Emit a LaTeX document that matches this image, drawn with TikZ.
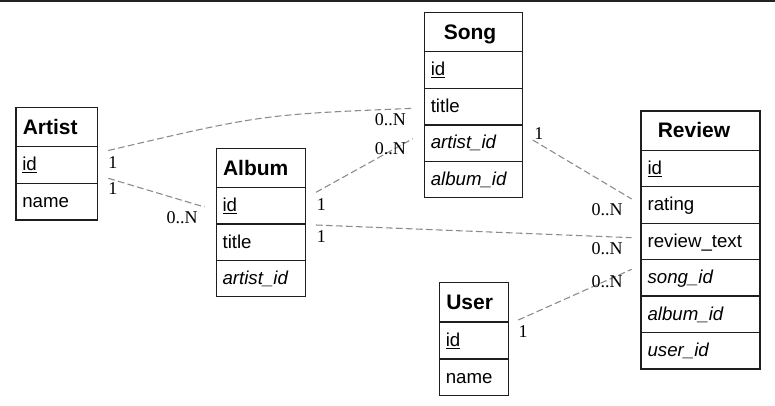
\documentclass[tikz,border=0pt]{standalone}
\usepackage{fontspec}
\setmainfont{Liberation Serif}
\newfontfamily\arialf{Liberation Sans}
\definecolor{relgray}{HTML}{8A8A8A}
\definecolor{barcol}{HTML}{222222}
\definecolor{tblcol}{HTML}{1E1E1E}
\begin{document}
\begin{tikzpicture}[x=0.75pt,y=-0.75pt,
  hdr/.style={anchor=base west, inner sep=0pt, font=\arialf\bfseries\fontsize{15.75}{18}\selectfont},
  fld/.style={anchor=base west, inner sep=0pt, font=\arialf\fontsize{14}{16}\selectfont},
  ifld/.style={fld, font=\arialf\itshape\fontsize{14}{16}\selectfont},
  card/.style={anchor=base west, inner sep=0pt, font=\fontsize{13.5}{15}\selectfont},
  tbl/.style={draw=tblcol, line width=0.85pt},
  rel/.style={draw=relgray, line width=0.8pt, dash pattern=on 5pt off 2.5pt}]
\useasboundingbox (0,0) rectangle (775,406);
\fill[white] (0,0) rectangle (775,406);
\fill[barcol] (0,0) rectangle (775,2);

% Artist
\draw[tbl] (16,107.3) rectangle (97.3,220);
\draw[tbl] (16,146.7) -- (97.3,146.7);
\draw[tbl] (16,183.3) -- (97.3,183.3);
\node[hdr] (artist) at (22.5,134.3) {Artist};
\node[fld] (artist-id) at (22,170.7) {\underline{id}};
\node[fld] (artist-name) at (22,207.3) {name};

% Album
\draw[tbl] (216.3,148.3) rectangle (305.7,296.7);
\draw[tbl] (216.3,187.7) -- (305.7,187.7);
\draw[tbl] (216.3,224) -- (305.7,224);
\draw[tbl] (216.3,260.7) -- (305.7,260.7);
\node[hdr] (album) at (222.8,175.3) {Album};
\node[fld] (album-id) at (222.3,211.7) {\underline{id}};
\node[fld] (album-title) at (222.3,248) {title};
\node[ifld] (album-artist) at (222.3,284.7) {artist\_id};

% Song
\draw[tbl] (424.3,12.3) rectangle (522.3,197.7);
\draw[tbl] (424.3,51.7) -- (522.3,51.7);
\draw[tbl] (424.3,88.3) -- (522.3,88.3);
\draw[tbl] (424.3,125) -- (522.3,125);
\draw[tbl] (424.3,161.3) -- (522.3,161.3);
\node[hdr] (song) at (443.5,39.3) {Song};
\node[fld] (song-id) at (430.5,75.7) {\underline{id}};
\node[fld] (song-title) at (430.5,112.3) {title};
\node[ifld] (song-artist) at (430.5,149) {artist\_id};
\node[ifld] (song-album) at (430.5,185.3) {album\_id};

% Review
\draw[tbl] (641,111) rectangle (760,369);
\draw[tbl] (641,150.3) -- (760,150.3);
\draw[tbl] (641,186.7) -- (760,186.7);
\draw[tbl] (641,223.3) -- (760,223.3);
\draw[tbl] (641,259.7) -- (760,259.7);
\draw[tbl] (641,296) -- (760,296);
\draw[tbl] (641,332.3) -- (760,332.3);
\node[hdr] (review) at (657.5,138) {Review};
\node[fld] (review-id) at (647.3,174.3) {\underline{id}};
\node[fld] (review-rating) at (647.3,210.7) {rating};
\node[fld] (review-text) at (647.3,247.3) {review\_text};
\node[ifld] (review-song) at (647.3,283.7) {song\_id};
\node[ifld] (review-album) at (647.3,320) {album\_id};
\node[ifld] (review-user) at (647.3,356.3) {user\_id};

% User
\draw[tbl] (439.3,282.7) rectangle (508.3,395.3);
\draw[tbl] (439.3,322) -- (508.3,322);
\draw[tbl] (439.3,359) -- (508.3,359);
\node[hdr] (user) at (446,309.7) {User};
\node[fld] (user-id) at (445.5,346) {\underline{id}};
\node[fld] (user-name) at (445.5,383) {name};

% connector end points
\coordinate (e1a) at (108.3,150.5);
\coordinate (e1c) at (262,114.5);
\coordinate (e1b) at (414,108.3);
\coordinate (e2a) at (108.3,178.3);
\coordinate (e2b) at (204.5,207);
\coordinate (e3a) at (316,192.3);
\coordinate (e3b) at (412.7,138.7);
\coordinate (e4a) at (316,225);
\coordinate (e4b) at (631.7,237.7);
\coordinate (e5a) at (532.7,140);
\coordinate (e5b) at (631.7,199);
\coordinate (e6a) at (518.3,320);
\coordinate (e6b) at (631.7,269.3);

\draw[rel] (e1a) .. controls (e1c) .. (e1b);
\draw[rel] (e2a) -- (e2b);
\draw[rel] (e3a) -- (e3b);
\draw[rel] (e4a) -- (e4b);
\draw[rel] (e5a) -- (e5b);
\draw[rel] (e6a) -- (e6b);

% cardinalities
\node[card] (c1a) at (108,169) {1};
\node[card] (c1b) at (374.5,126) {0..N};
\node[card] (c2a) at (108,195) {1};
\node[card] (c2b) at (166.3,223.3) {0..N};
\node[card] (c3a) at (316.5,210) {1};
\node[card] (c3b) at (374.5,154.3) {0..N};
\node[card] (c4a) at (316.5,242.7) {1};
\node[card] (c4b) at (591.3,254) {0..N};
\node[card] (c5a) at (534,139.3) {1};
\node[card] (c5b) at (591.3,216) {0..N};
\node[card] (c6a) at (518.3,337.7) {1};
\node[card] (c6b) at (591.3,287.3) {0..N};
\end{tikzpicture}
\end{document}
